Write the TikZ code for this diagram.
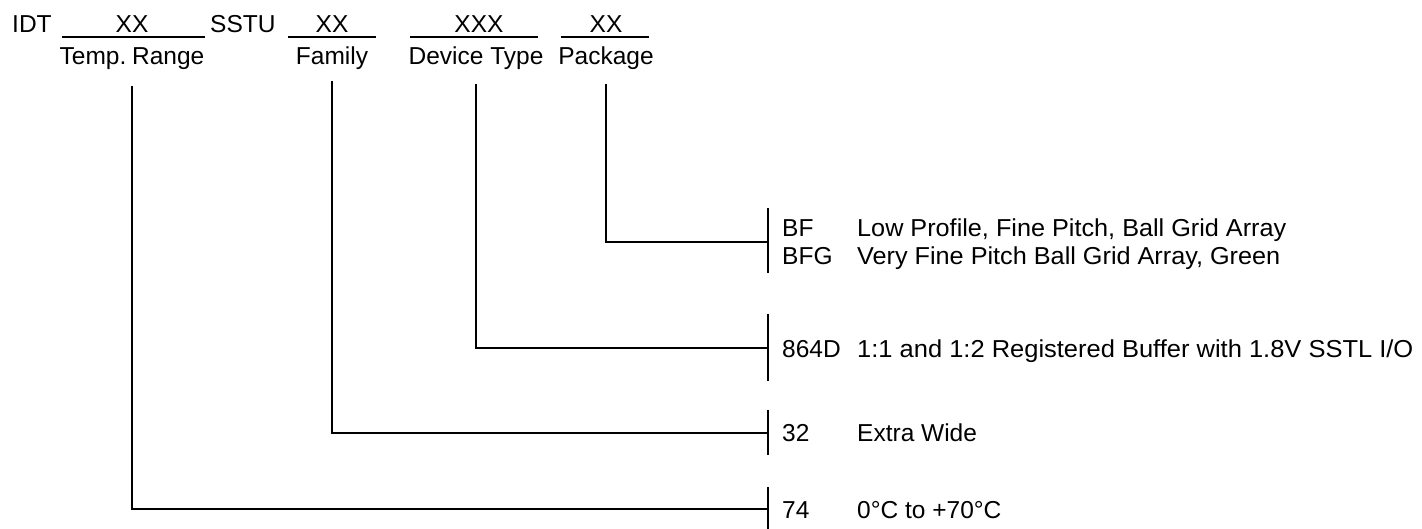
\documentclass[tikz,border=0pt]{standalone}
\usepackage{fontspec}
\setmainfont{Liberation Sans}
\begin{document}
\begin{tikzpicture}[x=1pt,y=-1pt,
  lbl/.style={inner sep=0pt, font=\fontsize{24.5}{29}\selectfont},
  hd/.style={lbl, anchor=base},
  code/.style={lbl, anchor=base west},
  uline/.style={line width=1.8pt},
  connthin/.style={line width=1.1pt},
  connthick/.style={line width=1.9pt},
  barline/.style={line width=1.1pt}]
\useasboundingbox (0,0) rectangle (1422,529);
% header row
\node[code] (idt) at (12,33) {IDT};
\node[hd] (xx1) at (132,33) {XX};
\draw[uline] (62,37) -- (205,37);
\node[code] (sstu) at (210,33) {SSTU};
\node[hd] (xx2) at (332,33) {XX};
\draw[uline] (288,37) -- (376,37);
\node[hd] (xxx3) at (479,33) {XXX};
\draw[uline] (410,37) -- (538,37);
\node[hd] (xx4) at (606,33) {XX};
\draw[uline] (561,37) -- (649,37);
% field labels
\node[hd] (temp) at (132,65) {Temp.\kern-1pt\ Range};
\node[hd] (family) at (332,65) {Family};
\node[hd] (devtype) at (476,65) {Device Type};
\node[hd] (package) at (606,65) {Package};
% bars
\coordinate (cpkg) at (768,242);
\coordinate (cdev) at (768,348);
\coordinate (cfam) at (768,433);
\coordinate (ctmp) at (768,509);
\draw[barline] (768,208) -- (768,273);
\draw[barline] (768,314) -- (768,381);
\draw[barline] (768,410) -- (768,455);
\draw[barline] (768,487) -- (768,531);
% connectors
\draw[connthick] ([yshift=-19pt]package.base) |- (cpkg);
\draw[connthin] ([yshift=-19pt]devtype.base) |- (cdev);
\draw[connthick] ([yshift=-16pt]family.base) |- (cfam);
\draw[connthin] ([yshift=-21pt]temp.base) |- (ctmp);
% option texts
\node[code] (bf) at (782,237) {BF};
\node[code] (bfd) at (857,237) {\scalebox{1.03}[1]{Low Profile, Fine Pitch, Ball Grid Array}};
\node[code] (bfg) at (782,265) {BFG};
\node[code] (bfgd) at (857,265) {\scalebox{1.03}[1]{Very Fine Pitch Ball Grid Array, Green}};
\node[code] (d864) at (782,358) {864D};
\node[code] (d864d) at (857,358) {\scalebox{1.04}[1]{1:1 and 1:2 Registered Buffer with 1.8V SSTL I/O}};
\node[code] (f32) at (782,441) {32};
\node[code] (f32d) at (857,441) {Extra Wide};
\node[code] (t74) at (782,518) {74};
\node[code] (t74d) at (857,518) {0°C to +70°C};
\end{tikzpicture}
\end{document}
